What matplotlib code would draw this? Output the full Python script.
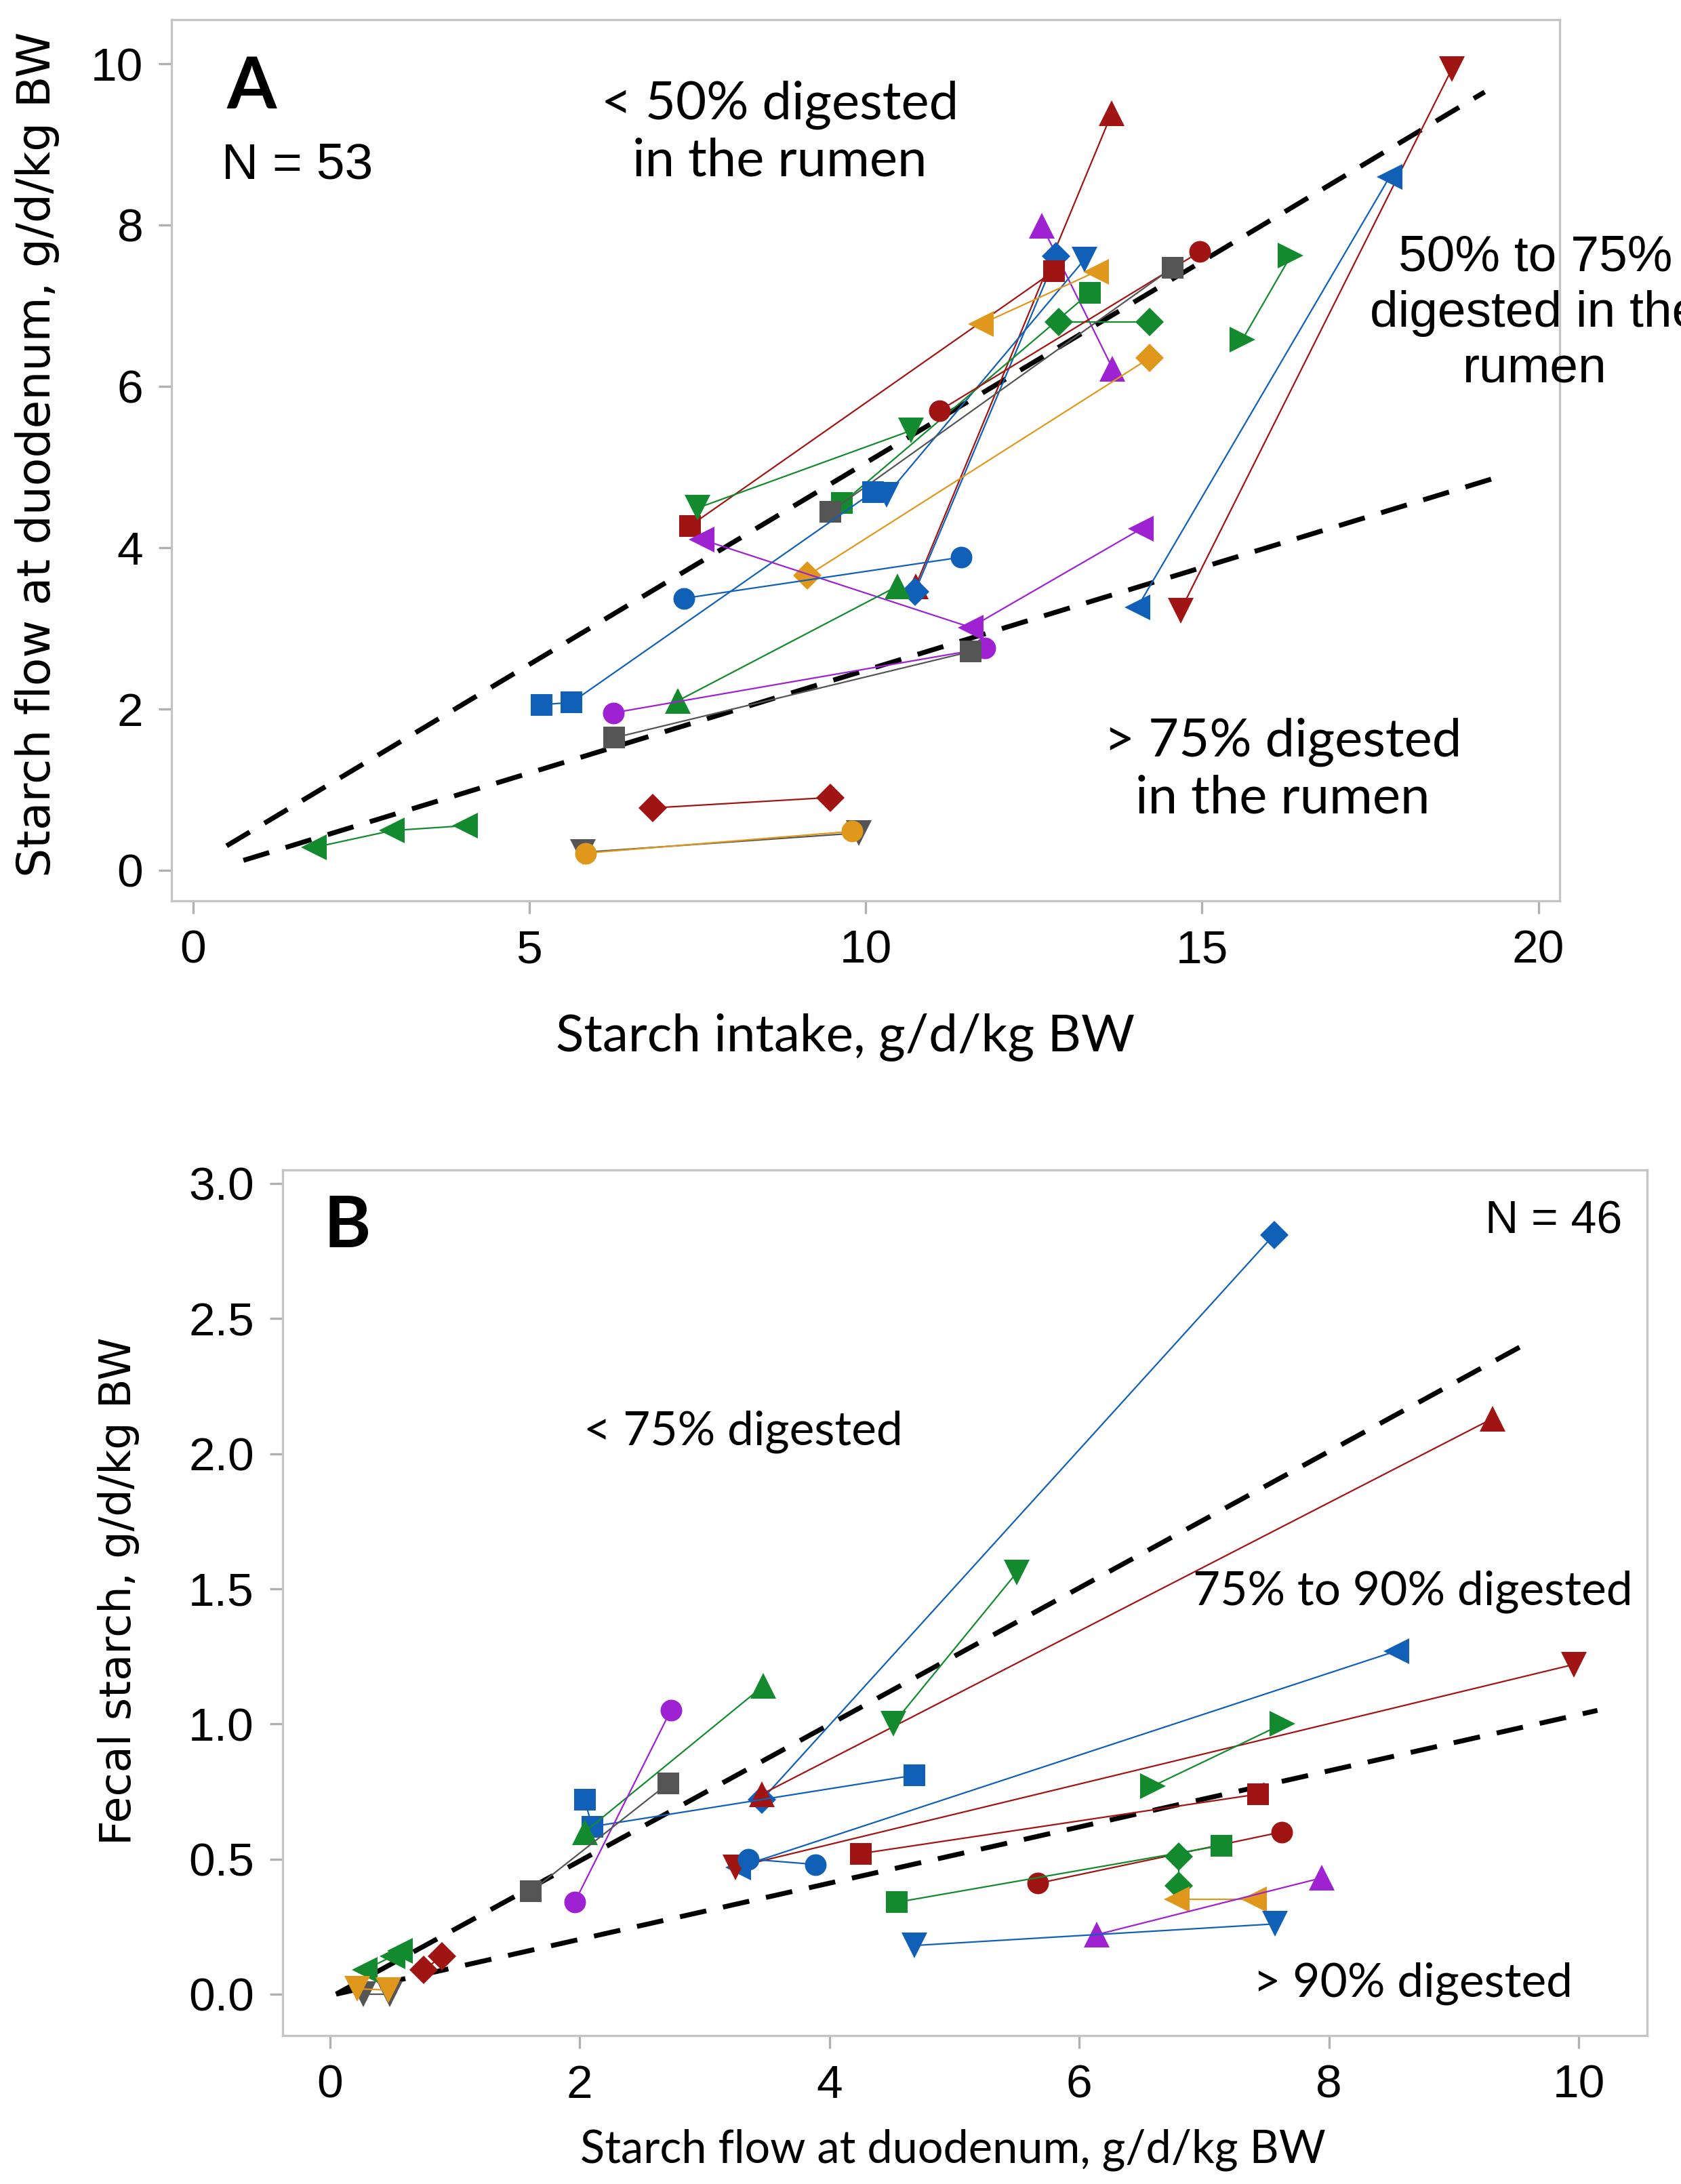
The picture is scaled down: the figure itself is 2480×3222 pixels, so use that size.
import numpy as np
import matplotlib
matplotlib.use("Agg")
from matplotlib import pyplot as plt

# colours used by the series
RED = '#a11414'
BLUE = '#1060b8'
GREEN = '#148a2e'
PURPLE = '#9e22d2'
ORANGE = '#e0981c'
GRAY = '#555555'

# ---- panel A: starch intake (x) vs starch flow at duodenum (y) ----
a_series = [
    # colour, marker, x, y
    (RED, 'v', [18.71, 14.68], [9.93, 3.22]),
    (BLUE, '<', [17.79, 14.04], [8.60, 3.26]),
    (RED, '^', [13.66, 10.74], [9.39, 3.52]),
    (PURPLE, '^', [12.62, 13.67], [7.99, 6.22]),
    (BLUE, 'D', [12.83, 10.73], [7.61, 3.45]),
    (RED, 's', [12.80, 7.39], [7.43, 4.27]),
    (BLUE, 'v', [13.25, 10.31], [7.57, 4.65]),
    (ORANGE, '<', [13.42, 11.71], [7.42, 6.77]),
    (GREEN, 's', [13.33, 9.65], [7.16, 4.55]),
    (GREEN, 'D', [12.87, 14.22], [6.80, 6.80]),
    (ORANGE, 'D', [14.22, 9.13], [6.35, 3.65]),
    (RED, 'o', [14.97, 11.10], [7.67, 5.70]),
    (GRAY, 's', [14.56, 9.47], [7.47, 4.44]),
    (GREEN, 'v', [10.67, 7.50], [5.45, 4.49]),
    (BLUE, 's', [5.18, 5.63, 10.11], [2.05, 2.08, 4.69]),
    (PURPLE, '<', [7.56, 11.56, 14.09], [4.10, 3.01, 4.23]),
    (BLUE, 'o', [7.30, 11.42], [3.37, 3.88]),
    (GREEN, '^', [10.47, 7.21], [3.52, 2.10]),
    (PURPLE, 'o', [6.25, 11.77], [1.95, 2.75]),
    (GRAY, 's', [11.56, 6.26], [2.71, 1.64]),
    (GREEN, '<', [1.80, 2.96, 4.04], [0.28, 0.49, 0.55]),
    (RED, 'D', [6.83, 9.47], [0.77, 0.90]),
    (GRAY, 'v', [5.80, 9.90], [0.22, 0.46]),
    (ORANGE, 'o', [5.84, 9.80], [0.21, 0.48]),
    (GREEN, '>', [16.32, 15.60], [7.62, 6.58]),
]
# reference lines (50 % and 75 % digested in the rumen)
a_ref_x = [[0.5, 19.2], [0.75, 19.5]]
a_ref_y = [[0.30, 9.65], [0.12, 4.90]]

# ---- panel B: starch flow at duodenum (x) vs fecal starch (y) ----
b_series = [
    (BLUE, 'D', [7.56, 3.46], [2.81, 0.72]),
    (RED, '^', [9.31, 3.46], [2.13, 0.74]),
    (GREEN, 'v', [5.50, 4.51], [1.56, 1.00]),
    (BLUE, '<', [8.54, 3.27], [1.27, 0.47]),
    (RED, 'v', [9.96, 3.25], [1.22, 0.47]),
    (BLUE, 'o', [3.35, 3.89], [0.50, 0.48]),
    (RED, 's', [4.25, 7.43], [0.52, 0.74]),
    (RED, 'o', [5.67, 7.62], [0.41, 0.60]),
    (GREEN, 's', [4.54, 7.14], [0.34, 0.55]),
    (GREEN, 'D', [6.80, 6.80], [0.51, 0.40]),
    (ORANGE, '<', [6.78, 7.40], [0.35, 0.35]),
    (PURPLE, '^', [7.94, 6.14], [0.43, 0.22]),
    (BLUE, 'v', [4.68, 7.57], [0.18, 0.26]),
    (GREEN, '>', [6.59, 7.63], [0.77, 1.00]),
    (BLUE, 's', [2.04, 2.10, 4.68], [0.72, 0.62, 0.81]),
    (GREEN, '^', [2.04, 3.47], [0.60, 1.14]),
    (PURPLE, 'o', [1.96, 2.73], [0.34, 1.05]),
    (GRAY, 's', [1.61, 2.71], [0.38, 0.78]),
    (GREEN, '<', [0.28, 0.50, 0.56], [0.09, 0.14, 0.16]),
    (RED, 'D', [0.75, 0.90], [0.09, 0.14]),
    (GRAY, 'v', [0.27, 0.48], [0.00, 0.00]),
    (ORANGE, 'v', [0.22, 0.47], [0.02, 0.015]),
]
# reference lines (75 % and 90 % digested)
b_ref_x = [[0.05, 9.55], [0.05, 10.15]]
b_ref_y = [[0.00, 2.40], [0.00, 1.05]]

TICK_FONT = 'Liberation Sans'
NOTE_FONT = 'Lato'
YLAB_FONT = 'DejaVu Sans'

fig = plt.figure(figsize=(12.4, 16.11), dpi=200)
axA = fig.add_axes([0.102, 0.5876, 0.826, 0.4035])
axB = fig.add_axes([0.168, 0.068, 0.812, 0.3963])

msize = {'s': 11.5, 'o': 11.5, 'D': 10.5, '^': 13.5, 'v': 13.5, '<': 13.5, '>': 13.5}


def draw(ax, series, ref_x, ref_y):
    for rx, ry in zip(ref_x, ref_y):
        ax.plot(rx, ry, color='black', lw=2.6, dashes=(5.5, 3.5), zorder=1)
    for col, mk, xs, ys in series:
        ax.plot(xs, ys, color=col, lw=0.8, marker=mk, ms=msize[mk],
                markeredgewidth=0, zorder=2)
    for s in ax.spines.values():
        s.set_color('#c4c4c4')
        s.set_linewidth(1.2)
    ax.tick_params(direction='out', length=7, width=1.2, color='#b0b0b0',
                   labelsize=25, pad=8)


draw(axA, a_series, a_ref_x, a_ref_y)
axA.set_xlim(-0.32, 20.32)
axA.set_ylim(-0.38, 10.55)
axA.set_xticks([0, 5, 10, 15, 20])
axA.set_yticks([0, 2, 4, 6, 8, 10])
for lab in axA.get_xticklabels() + axA.get_yticklabels():
    lab.set_fontfamily(TICK_FONT)

axA.text(0.87, 9.7, 'A', fontsize=38, fontweight='bold', family=NOTE_FONT,
         ha='center', va='center')
axA.text(1.55, 8.74, 'N = 53', fontsize=27, family=TICK_FONT,
         ha='center', va='center')
axA.text(8.72, 9.14, '< 50% digested\nin the rumen', fontsize=28,
         family=NOTE_FONT, ha='center', va='center', linespacing=1.2)
axA.text(19.95, 6.9, '50% to 75%\ndigested in the\nrumen', fontsize=27,
         family=TICK_FONT, ha='center', va='center', linespacing=1.25,
         clip_on=False)
axA.text(16.2, 1.24, '> 75% digested\nin the rumen', fontsize=28,
         family=NOTE_FONT, ha='center', va='center', linespacing=1.2)

draw(axB, b_series, b_ref_x, b_ref_y)
axB.set_xlim(-0.38, 10.55)
axB.set_ylim(-0.153, 3.05)
axB.set_xticks([0, 2, 4, 6, 8, 10])
axB.set_yticks([0.0, 0.5, 1.0, 1.5, 2.0, 2.5, 3.0])
axB.set_yticklabels(['0.0', '0.5', '1.0', '1.5', '2.0', '2.5', '3.0'])
for lab in axB.get_xticklabels() + axB.get_yticklabels():
    lab.set_fontfamily(TICK_FONT)

axB.text(0.14, 2.84, 'B', fontsize=38, fontweight='bold', family=NOTE_FONT,
         ha='center', va='center')
axB.text(9.8, 2.86, 'N = 46', fontsize=24.5, family=TICK_FONT,
         ha='center', va='center')
axB.text(3.31, 2.08, '< 75% digested', fontsize=25, family=NOTE_FONT,
         ha='center', va='center')
axB.text(8.67, 1.49, '75% to 90% digested', fontsize=25, family=NOTE_FONT,
         ha='center', va='center')
axB.text(8.67, 0.04, '> 90% digested', fontsize=25, family=NOTE_FONT,
         ha='center', va='center')

# axis titles
fig.text(0.503, 0.525, 'Starch intake, g/d/kg BW', fontsize=27.5,
         family=NOTE_FONT, ha='center', va='center')
fig.text(0.022, 0.792, 'Starch flow at duodenum, g/d/kg BW', fontsize=24.5,
         family=YLAB_FONT, rotation=90, ha='center', va='center')
fig.text(0.567, 0.0155, 'Starch flow at duodenum, g/d/kg BW', fontsize=24,
         family=NOTE_FONT, ha='center', va='center')
fig.text(0.0704, 0.2716, 'Fecal starch, g/d/kg BW', fontsize=23,
         family=YLAB_FONT, rotation=90, ha='center', va='center')

fig.savefig('out.png', dpi=200, facecolor='white')
